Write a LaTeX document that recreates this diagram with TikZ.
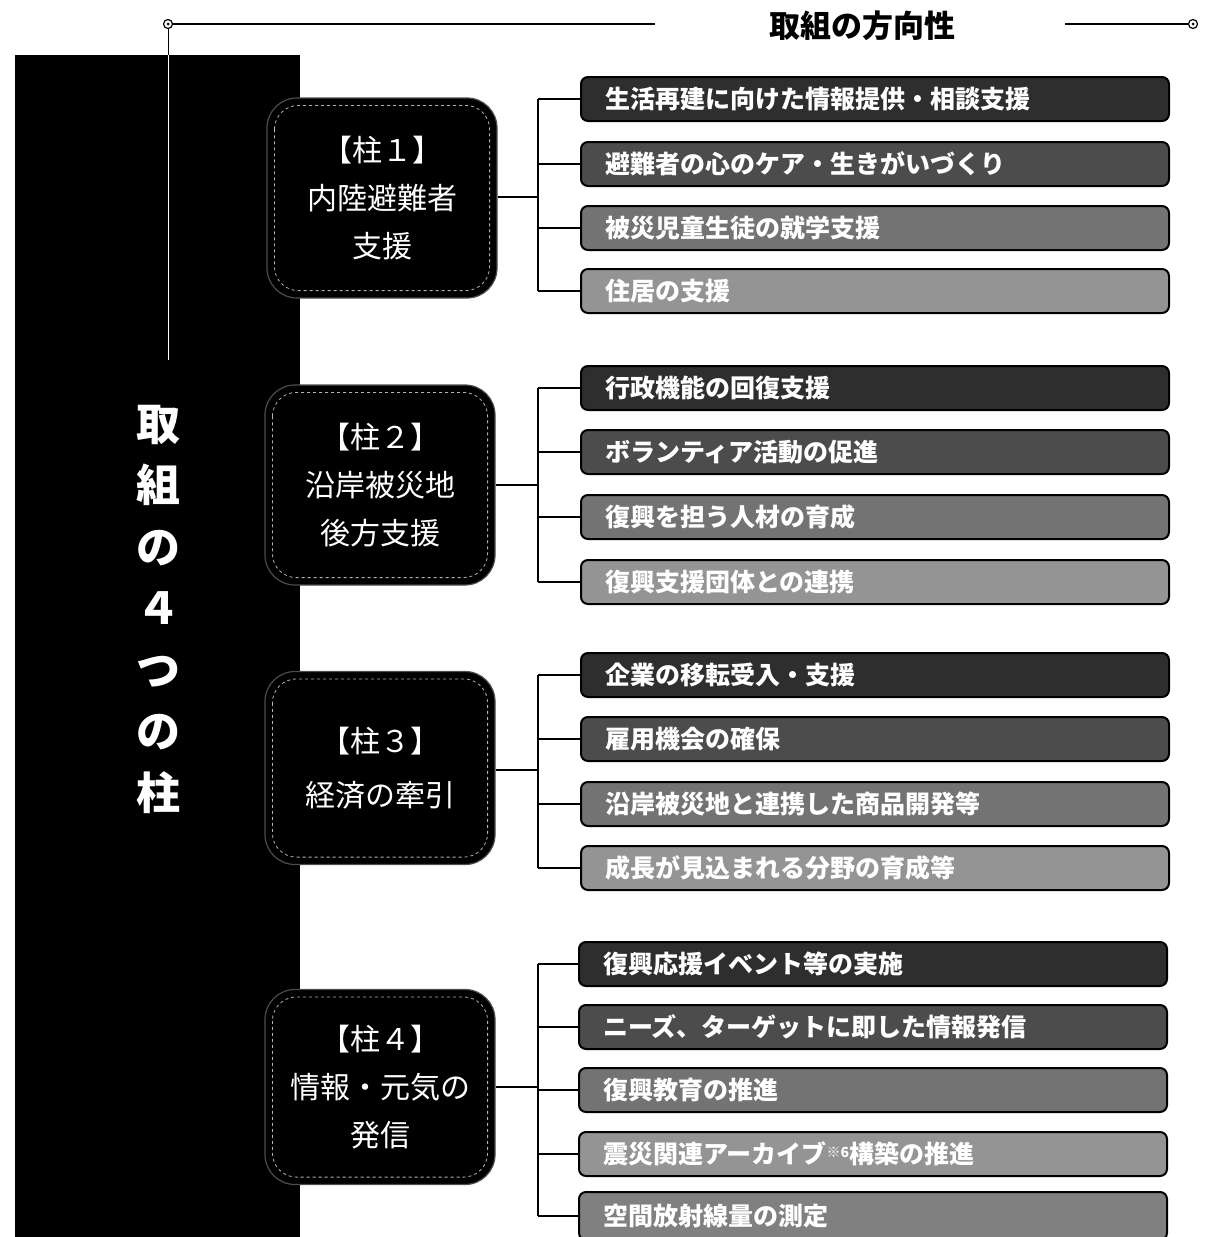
\documentclass[tikz,border=0pt]{standalone}
\usepackage{fontspec}
\newfontfamily\jp{Noto Sans CJK JP}
\usetikzlibrary{calc}
\tikzset{
  pillar/.style={draw=black!70, line width=1.2pt, fill=black, rounded corners=30pt,
    minimum width=230pt, align=center, text=white,
    font=\jp\fontsize{30}{48}\selectfont},
  item/.style={draw=black, line width=2pt, fill=#1, rounded corners=7pt, anchor=west,
    minimum height=44pt, text width=540pt, inner xsep=24pt, align=left, text=white,
    font=\jp\bfseries\fontsize{25}{28}\selectfont},
  conn/.style={draw=black, line width=1.3pt},
}
\begin{document}
\begin{tikzpicture}[x=1pt,y=-1pt]
\useasboundingbox (0,0) rectangle (1205,1237);
% black column
\fill[black] (15,55) rectangle (300,1237);
% header line
\coordinate (tl) at (168,24);
\coordinate (tm) at (655,24);
\coordinate (tr) at (1065,24);
\coordinate (te) at (1193,24);
\coordinate (vb) at (168,55);
\coordinate (ve) at (168,360);
\draw[line width=1.2pt] (tl) -- (tm);
\draw[line width=1.2pt] (tr) -- (te);
\draw[line width=1pt] (tl) -- (vb);
\draw[white, line width=1pt] (vb) -- (ve);
\draw[line width=1.2pt, fill=white] (tl) circle (4.5);
\draw[line width=1.2pt, fill=white] (te) circle (4.5);
\fill (tl) circle (1.5);
\fill (te) circle (1.5);
\node[font=\jp\bfseries\fontsize{31}{34}\selectfont] (title) at (862,26) {取組の方向性};
% vertical title
\node[text=white, align=center, font=\jp\bfseries\fontsize{44}{61.5}\selectfont] (vt) at (158,609)
  {取\\組\\の\\４\\つ\\の\\柱};
% pillars
\node[pillar, minimum height=200pt] (p1) at (382,198) {【柱１】\\内陸避難者\\支援};
\node[pillar, minimum height=200pt] (p2) at (380,485) {【柱２】\\沿岸被災地\\後方支援};
\node[pillar, minimum height=193pt, font=\jp\fontsize{30}{54}\selectfont] (p3) at (380,768) {【柱３】\\経済の牽引};
\node[pillar, minimum height=195pt] (p4) at (380,1087) {【柱４】\\情報・元気の\\発信};
\foreach \p in {p1,p2,p3,p4}{
  \draw[dashed, gray!60, line width=0.8pt, rounded corners=24pt]
    ($(\p.north west)+(8,8)$) rectangle ($(\p.south east)+(-8,-8)$);
}
% items
\node[item=black!82] (a1) at (580,99) {生活再建に向けた情報提供・相談支援};
\node[item=black!70] (a2) at (580,164) {避難者の心のケア・生きがいづくり};
\node[item=black!55] (a3) at (580,228) {被災児童生徒の就学支援};
\node[item=black!42] (a4) at (580,291) {住居の支援};
\node[item=black!82] (b1) at (580,388) {行政機能の回復支援};
\node[item=black!70] (b2) at (580,452) {ボランティア活動の促進};
\node[item=black!55] (b3) at (580,517) {復興を担う人材の育成};
\node[item=black!42] (b4) at (580,582) {復興支援団体との連携};
\node[item=black!82] (c1) at (580,675) {企業の移転受入・支援};
\node[item=black!70] (c2) at (580,739) {雇用機会の確保};
\node[item=black!55] (c3) at (580,804) {沿岸被災地と連携した商品開発等};
\node[item=black!42] (c4) at (580,868) {成長が見込まれる分野の育成等};
\node[item=black!82] (d1) at (578,964) {復興応援イベント等の実施};
\node[item=black!70] (d2) at (578,1027) {ニーズ、ターゲットに即した情報発信};
\node[item=black!55] (d3) at (578,1090) {復興教育の推進};
\node[item=black!42] (d4) at (578,1154) {震災関連アーカイブ{\fontsize{14}{14}\selectfont\raisebox{6pt}{※6}}構築の推進};
\node[item=black!50, minimum height=48pt] (d5) at (578,1216) {空間放射線量の測定};
% connectors
\coordinate (k1) at (538,197);
\coordinate (k2) at (538,485);
\coordinate (k3) at (538,770);
\coordinate (k4) at (538,1087);
\draw[conn] (p1.east |- k1) -- (k1);
\draw[conn] (p2.east |- k2) -- (k2);
\draw[conn] (p3.east |- k3) -- (k3);
\draw[conn] (p4.east |- k4) -- (k4);
\draw[conn] (k1 |- a1.west) -- (k1 |- a4.west);
\draw[conn] (k2 |- b1.west) -- (k2 |- b4.west);
\draw[conn] (k3 |- c1.west) -- (k3 |- c4.west);
\draw[conn] (k4 |- d1.west) -- (k4 |- d5.west);
\foreach \i in {a1,a2,a3,a4}{\draw[conn] (k1 |- \i.west) -- (\i.west);}
\foreach \i in {b1,b2,b3,b4}{\draw[conn] (k2 |- \i.west) -- (\i.west);}
\foreach \i in {c1,c2,c3,c4}{\draw[conn] (k3 |- \i.west) -- (\i.west);}
\foreach \i in {d1,d2,d3,d4,d5}{\draw[conn] (k4 |- \i.west) -- (\i.west);}
\end{tikzpicture}
\end{document}
